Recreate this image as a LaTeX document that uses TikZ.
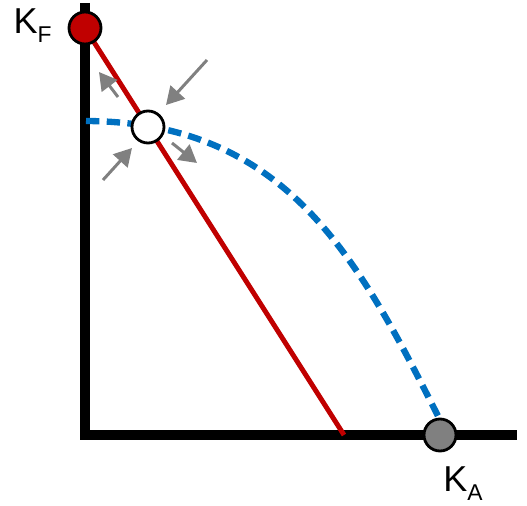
\documentclass[tikz,border=0pt]{standalone}
\usepackage{fontspec}
\setmainfont{Liberation Sans}
\usetikzlibrary{arrows.meta,positioning}
\definecolor{kred}{RGB}{192,0,0}
\definecolor{kblue}{RGB}{0,112,192}
\definecolor{kgray}{RGB}{128,128,128}
\newcommand\ksub[1]{\raisebox{-5pt}{\fontsize{13}{13}\selectfont #1}}
\tikzset{
  dot/.style={circle,draw=black,line width=1.6pt,minimum size=0.64cm,inner sep=0pt},
  nudge/.style={draw=kgray,line width=1.7pt,-{Triangle[length=10pt,width=11pt]}},
  klabel/.style={font=\fontsize{20.5}{22}\selectfont,inner sep=1pt},
}
\begin{document}
\begin{tikzpicture}[x=0.02cm,y=-0.02cm]
    \useasboundingbox (0,0) rectangle (527,506);
    % ---- axes ----
    \draw[line width=5.4pt] (85,3) |- (517,435);
    \coordinate (top) at (85,28);
    \coordinate (bottom) at (344,435);
    % ---- curves ----
    \draw[kblue,line width=3.6pt,dash pattern=on 7.6pt off 4.2pt]
        (86,121) .. controls (285,122) and (357,255) .. (440,420);
    \draw[kred,line width=2.8pt] (top) -- (bottom);
    % ---- points ----
    \node[dot,fill=kred] (kf) at (top) {};
    \node[dot,fill=white] (eq) at (148,127) {};
    \node[dot,fill=kgray] (ka) at (440,435) {};
    \node[klabel,left=0.28cm of kf,yshift=0.04cm] {K\ksub{F}};
    \node[klabel,below=0.24cm of ka,xshift=0.46cm] {K\ksub{A}};
    % ---- shifts ----
    \draw[nudge] (eq.center) ++(59,-67) -- ++(-41,45);
    \draw[nudge] (eq.center) ++(-45,53) -- ++(29,-32);
    \draw[nudge] (eq.center) ++(-30,-30) -- ++(-19,-25);
    \draw[nudge] (eq.center) ++(24,16) -- ++(25,20);
\end{tikzpicture}
\end{document}
